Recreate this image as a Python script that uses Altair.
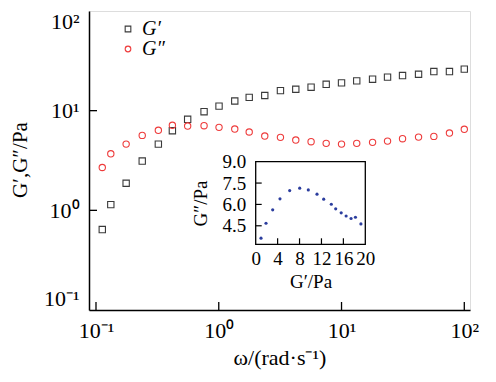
import altair as alt
import pandas as pd

SERIF = "Liberation Serif"

# ---- main data ----
omega = [0.1125, 0.132, 0.176, 0.238, 0.322, 0.419, 0.558, 0.759, 1.005, 1.35,
         1.77, 2.37, 3.18, 4.24, 5.65, 7.5, 10.0, 13.3, 17.9, 23.7,
         31.4, 42.4, 56.5, 75.7, 100.0]
g_prime = [0.641, 1.14, 1.87, 3.12, 4.62, 6.29, 8.19, 9.77, 11.1, 12.5,
           13.6, 14.2, 15.9, 16.4, 17.2, 18.4, 19.0, 19.9, 20.7, 21.7,
           22.5, 23.2, 24.7, 24.7, 26.1]
g_dprime = [2.69, 3.69, 4.62, 5.65, 6.35, 7.13, 7.01, 7.06, 6.80, 6.54,
            6.11, 5.56, 5.40, 5.07, 4.88, 4.70, 4.62, 4.70, 4.81, 4.95,
            5.23, 5.43, 5.52, 5.96, 6.50]
series_names = ["G\u2032", "G\u2033"]
decades = [0.1, 1, 10, 100]
decade_labels = ["10\u207b\u00b9", "10\u2070", "10\u00b9", "10\u00b2"]

# ---- inset data ----
inset_gp = [0.97, 1.88, 3.10, 4.43, 6.20, 8.03, 9.60, 11.19, 12.41, 13.80,
            14.6, 15.6, 16.5, 17.4, 18.2, 19.2]
inset_gpp = [3.63, 4.68, 5.62, 6.39, 6.97, 7.14, 7.02, 6.72, 6.37, 6.01,
             5.69, 5.41, 5.19, 5.01, 5.10, 4.63]
inset_xticks = [0, 4, 8, 12, 16, 20]
inset_yticks = [4.5, 6.0, 7.5, 9.0]
inset_ymin = 3.2

W, H = 381, 299
FS = 22      # main text size
IFS = 19     # inset text size

df = pd.DataFrame({
    "omega": omega * 2,
    "G": g_prime + g_dprime,
    "series": [series_names[0]] * len(omega) + [series_names[1]] * len(omega),
})

expr = f"'{decade_labels[-1]}'"
for v, lab in reversed(list(zip(decades[:-1], decade_labels[:-1]))):
    expr = f"datum.value < {v * 3} ? '{lab}' : {expr}"

xs_main = alt.Scale(type="log", domain=[0.0877, 111.3], nice=False)
ys_main = alt.Scale(type="log", domain=[0.1, 100], nice=False)

x_main = alt.X("omega:Q", scale=xs_main, title="\u03c9/(rad\u00b7s\u207b\u00b9)",
               axis=alt.Axis(values=decades, labelExpr=expr, ticks=False, grid=False,
                             domainColor="black", domainWidth=1.5,
                             labelFont=SERIF, labelFontSize=FS, labelColor="black",
                             labelPadding=10, labelFlush=False,
                             titleFont=SERIF, titleFontSize=FS, titleFontWeight="normal",
                             titleColor="black", titleX=W / 2, titleY=54,
                             titleAlign="center", titleBaseline="alphabetic"))
y_main = alt.Y("G:Q", scale=ys_main, title="G\u2032,G\u2033/Pa",
               axis=alt.Axis(values=decades, labelExpr=expr, ticks=False, grid=False,
                             domainColor="black", domainWidth=1.5,
                             labelFont=SERIF, labelFontSize=FS, labelColor="black",
                             labelPadding=10, labelFlush=True, labelFlushOffset=0,
                             titleFont=SERIF, titleFontSize=FS - 1, titleFontWeight="normal",
                             titleColor="black", titleX=-68.5, titleY=H / 2 - 1,
                             titleAngle=270, titleAlign="center", titleBaseline="middle"))

leg = alt.Legend(orient="none", legendX=29, legendY=8, title=None,
                 labelFont=SERIF, labelFontStyle="italic", labelFontSize=20,
                 labelColor="black", symbolStrokeWidth=1.1, symbolSize=32,
                 labelOffset=4, rowPadding=0, padding=0)

points = alt.Chart(df).mark_point(filled=False, strokeWidth=1.1, size=40, opacity=1).encode(
    x=x_main, y=y_main,
    color=alt.Color("series:N", scale=alt.Scale(domain=series_names, range=["#3a3a3a", "#ee3b3b"]), legend=leg),
    shape=alt.Shape("series:N", scale=alt.Scale(domain=series_names, range=["square", "circle"]), legend=leg),
)
xt = alt.Chart(pd.DataFrame({"omega": decades})).mark_rule(color="black", strokeWidth=1.3).encode(
    x=x_main, y=alt.value(H), y2=alt.value(H - 8))
yt = alt.Chart(pd.DataFrame({"G": decades[1:3]})).mark_rule(color="black", strokeWidth=1.3).encode(
    y=y_main, x=alt.value(0), x2=alt.value(8))
main = alt.layer(points, xt, yt)

# ---- inset ----
ix0, ix1 = 166.7, 276.3
iy0, iy1 = 233.3, 150.7
xs_in = alt.Scale(domain=[inset_xticks[0], inset_xticks[-1]], range=[ix0, ix1], nice=False, zero=False)
ys_in = alt.Scale(domain=[inset_ymin, inset_yticks[-1]], range=[iy0, iy1], nice=False, zero=False)

x_in = alt.X("gp:Q", scale=xs_in, title="G\u2032/Pa",
             axis=alt.Axis(orient="bottom", offset=-(H - iy0), values=inset_xticks, format="d",
                           ticks=False, grid=False, domain=False,
                           labelFont=SERIF, labelFontSize=IFS, labelColor="black", labelPadding=5,
                           labelFlush=False,
                           titleFont=SERIF, titleFontSize=IFS, titleFontWeight="normal",
                           titleColor="black", titleX=(ix0 + ix1) / 2, titleY=43,
                           titleAlign="center", titleBaseline="alphabetic"))
y_in = alt.Y("gpp:Q", scale=ys_in, title="G\u2033/Pa",
             axis=alt.Axis(orient="left", offset=-ix0, values=inset_yticks, format=".1f",
                           ticks=False, grid=False, domain=False,
                           labelFont=SERIF, labelFontSize=IFS, labelColor="black", labelPadding=10,
                           labelFlush=False,
                           titleFont=SERIF, titleFontSize=IFS, titleFontWeight="normal",
                           titleColor="black", titleX=-55, titleY=(iy0 + iy1) / 2,
                           titleAngle=270, titleAlign="center", titleBaseline="middle"))

frame = alt.Chart(pd.DataFrame({"gp": [inset_xticks[0]], "gp2": [inset_xticks[-1]],
                                "gpp": [inset_ymin], "gpp2": [inset_yticks[-1]]})).mark_rect(
    fill="transparent", stroke="black", strokeWidth=1.3).encode(x=x_in, x2="gp2", y=y_in, y2="gpp2")
ipts = alt.Chart(pd.DataFrame({"gp": inset_gp, "gpp": inset_gpp})).mark_circle(
    size=10, color="#2b3d9e", opacity=1).encode(x=x_in, y=y_in)
ixt = alt.Chart(pd.DataFrame({"gp": inset_xticks[1:-1]})).mark_rule(color="black", strokeWidth=1.2).encode(
    x=x_in, y=alt.value(iy0), y2=alt.value(iy0 - 6))
iyt = alt.Chart(pd.DataFrame({"gpp": inset_yticks[:-1]})).mark_rule(color="black", strokeWidth=1.2).encode(
    y=y_in, x=alt.value(ix0), x2=alt.value(ix0 + 6))
inset = alt.layer(frame, ipts, ixt, iyt)

chart = alt.layer(main, inset).resolve_scale(x="independent", y="independent").properties(
    width=W, height=H,
    autosize=alt.AutoSizeParams(type="none"),
    padding={"left": 81, "top": 3, "right": 18, "bottom": 64},
).configure_view(stroke="#777777", strokeWidth=1).configure(background="white")

chart.save("out.html", embed_options={"renderer": "svg", "actions": False})
